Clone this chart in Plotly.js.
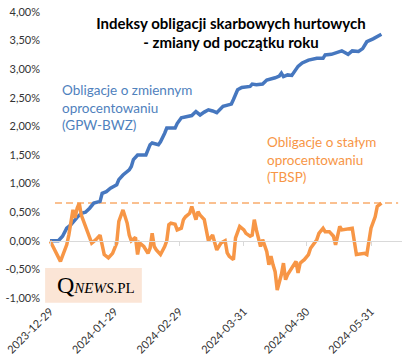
<!DOCTYPE html>
<html><head><meta charset="utf-8">
<script src="https://cdn.plot.ly/plotly-3.0.1.min.js"></script>
<style>html,body{margin:0;padding:0;background:#fff}#chart{width:420px;height:359px}</style>
</head><body><div id="chart"></div>
<script>
const blueDates = ['2023-12-29','2024-01-02','2024-01-04','2024-01-06','2024-01-08','2024-01-10','2024-01-11','2024-01-13','2024-01-15','2024-01-17','2024-01-19','2024-01-22','2024-01-23','2024-01-25','2024-01-27','2024-01-30','2024-01-31','2024-02-02','2024-02-03','2024-02-05','2024-02-06','2024-02-07','2024-02-09','2024-02-13','2024-02-15','2024-02-16','2024-02-19','2024-02-20','2024-02-22','2024-02-23','2024-02-27','2024-02-28','2024-03-01','2024-03-04','2024-03-06','2024-03-08','2024-03-10','2024-03-12','2024-03-14','2024-03-16','2024-03-18','2024-03-21','2024-03-25','2024-03-26','2024-03-28','2024-03-30','2024-04-03','2024-04-04','2024-04-06','2024-04-09','2024-04-11','2024-04-15','2024-04-17','2024-04-18','2024-04-19','2024-04-21','2024-04-23','2024-04-26','2024-04-28','2024-05-01','2024-05-05','2024-05-08','2024-05-09','2024-05-12','2024-05-14','2024-05-17','2024-05-18','2024-05-20','2024-05-22','2024-05-25','2024-05-27','2024-05-29','2024-06-01','2024-06-03','2024-06-05'];
const blueVals = [0.00,0.00,0.08,0.22,0.28,0.37,0.41,0.48,0.50,0.57,0.66,0.69,0.83,0.86,0.92,0.98,1.07,1.15,1.18,1.24,1.30,1.42,1.50,1.50,1.68,1.71,1.68,1.73,1.88,1.97,1.97,2.05,2.15,2.17,2.19,2.26,2.20,2.25,2.29,2.27,2.24,2.35,2.39,2.47,2.64,2.68,2.70,2.74,2.73,2.74,2.81,2.85,2.88,2.93,2.87,2.90,2.89,3.05,3.11,3.16,3.19,3.19,3.25,3.26,3.28,3.32,3.30,3.26,3.32,3.31,3.36,3.48,3.53,3.57,3.61];
const orangeDates = ['2023-12-29','2024-01-03','2024-01-06','2024-01-07','2024-01-09','2024-01-10','2024-01-11','2024-01-12','2024-01-13','2024-01-15','2024-01-17','2024-01-18','2024-01-20','2024-01-22','2024-01-23','2024-01-24','2024-01-26','2024-01-28','2024-01-30','2024-01-31','2024-02-02','2024-02-04','2024-02-05','2024-02-06','2024-02-08','2024-02-09','2024-02-10','2024-02-12','2024-02-14','2024-02-15','2024-02-16','2024-02-17','2024-02-18','2024-02-20','2024-02-22','2024-02-23','2024-02-24','2024-02-25','2024-02-27','2024-02-28','2024-03-01','2024-03-02','2024-03-03','2024-03-05','2024-03-06','2024-03-08','2024-03-09','2024-03-10','2024-03-12','2024-03-13','2024-03-14','2024-03-16','2024-03-17','2024-03-18','2024-03-20','2024-03-22','2024-03-23','2024-03-24','2024-03-26','2024-03-27','2024-03-29','2024-03-31','2024-04-01','2024-04-03','2024-04-04','2024-04-05','2024-04-06','2024-04-07','2024-04-08','2024-04-09','2024-04-11','2024-04-12','2024-04-13','2024-04-14','2024-04-15','2024-04-16','2024-04-18','2024-04-19','2024-04-20','2024-04-21','2024-04-23','2024-04-25','2024-04-26','2024-04-27','2024-04-28','2024-04-29','2024-05-01','2024-05-02','2024-05-05','2024-05-06','2024-05-08','2024-05-09','2024-05-11','2024-05-13','2024-05-14','2024-05-16','2024-05-17','2024-05-20','2024-05-22','2024-05-24','2024-05-26','2024-05-28','2024-05-29','2024-05-30','2024-05-31','2024-06-02','2024-06-03','2024-06-05'];
const orangeVals = [0.00,-0.36,-0.07,0.10,0.54,0.40,0.57,0.66,0.45,0.25,0.05,-0.04,0.02,0.10,-0.07,-0.24,-0.30,-0.22,-0.04,0.34,0.54,0.31,0.10,0.00,0.06,-0.24,-0.04,-0.10,-0.22,-0.13,0.13,-0.10,-0.16,-0.24,-0.10,0.00,0.28,0.31,0.29,0.19,0.22,0.37,0.42,0.48,0.60,0.37,0.51,0.45,0.37,0.19,0.00,0.10,-0.04,-0.16,-0.04,0.00,-0.21,-0.27,-0.33,0.05,0.25,0.19,0.13,0.08,0.10,0.37,0.19,0.05,-0.10,0.02,-0.19,-0.42,-0.27,-0.42,-0.54,-0.86,-0.59,-0.39,-0.68,-0.59,-0.48,-0.36,-0.56,-0.39,-0.36,-0.33,-0.24,-0.13,0.02,0.13,0.22,0.16,0.16,0.08,-0.07,0.25,0.19,0.20,0.22,-0.24,-0.23,-0.22,-0.24,0.00,0.22,0.42,0.60,0.66];
const tickDates = ['2023-12-29','2024-01-29','2024-02-29','2024-03-31','2024-04-30','2024-05-31'];
const yTicks = [-1,-0.5,0,0.5,1,1.5,2,2.5,3,3.5,4];
const titleText = 'Indeksy obligacji skarbowych hurtowych<br>- zmiany od początku roku';
const blueLabel = 'Obligacje o zmiennym<br>oprocentowaniu<br>(GPW-BWZ)';
const orangeLabel = 'Obligacje o stałym<br>oprocentowaniu<br>(TBSP)';

const FONT = 'Lato, "Open Sans", sans-serif';
const BLUE = '#4677BF', ORANGE = '#F79646';
const lastOrange = orangeVals[orangeVals.length - 1];
const yTickText = yTicks.map(v => v.toFixed(2).replace('.', ',') + '%');

const traces = [
  {x: blueDates, y: blueVals, type: 'scatter', mode: 'lines', line: {color: BLUE, width: 3.5}, hoverinfo: 'skip'},
  {x: orangeDates, y: orangeVals, type: 'scatter', mode: 'lines', line: {color: ORANGE, width: 3.5}, hoverinfo: 'skip'},
  {x: tickDates, y: tickDates.map(() => 0), xaxis: 'x2', type: 'scatter', mode: 'markers', marker: {opacity: 0}, hoverinfo: 'skip'}
];

const layout = {
  width: 420, height: 359,
  margin: {l: 49, r: 18, t: 12, b: 61},
  paper_bgcolor: '#fff', plot_bgcolor: 'rgba(0,0,0,0)',
  showlegend: false,
  font: {family: FONT, color: '#333', size: 11},
  title: {text: '<b>' + titleText + '</b>', font: {family: FONT, size: 15, color: '#000'},
          x: 0.55, xanchor: 'center', xref: 'container', y: 0.92, yanchor: 'middle', yref: 'container'},
  xaxis: {type: 'date', range: ['2023-12-28 12:00', '2024-06-14 21:00'],
          tickvals: tickDates, ticktext: tickDates, tickangle: -45,
          showgrid: false, zeroline: false, showline: false, ticks: '',
          ticklabelstandoff: 4,
          tickfont: {family: FONT, size: 11, color: '#333'}},
  xaxis2: {type: 'date', overlaying: 'x', matches: 'x', anchor: 'free', position: 0.2,
           tickvals: tickDates, showticklabels: false, ticks: 'outside', ticklen: 4,
           tickcolor: '#D9D9D9', showline: true, linecolor: '#D9D9D9', linewidth: 1,
           showgrid: false, zeroline: false},
  yaxis: {range: [-1, 4], tickvals: yTicks, ticktext: yTickText,
          showgrid: false, zeroline: false, showline: false, ticks: '',
          ticklabelstandoff: 8,
          tickfont: {family: FONT, size: 11, color: '#333'}},
  shapes: [
    {type: 'line', xref: 'paper', yref: 'y', x0: 0.017, x1: 0.989, y0: lastOrange, y1: lastOrange,
     line: {color: '#FAC090', width: 2, dash: '7px,4px'}, layer: 'below'},
    {type: 'rect', xref: 'paper', yref: 'paper', x0: -0.011, x1: 0.263, y0: -0.017, y1: 0.105,
     fillcolor: '#FBE5D6', line: {width: 0}, layer: 'below'}
  ],
  annotations: [
    {text: blueLabel, xref: 'paper', yref: 'paper', x: (60-49)/353, y: (298-80)/286, xanchor: 'left', yanchor: 'top',
     align: 'left', showarrow: false, font: {family: FONT, size: 13.5, color: '#4F81BD'}},
    {text: orangeLabel, xref: 'paper', yref: 'paper', x: (265-49)/353, y: (298-132)/286, xanchor: 'left', yanchor: 'top',
     align: 'left', showarrow: false, font: {family: FONT, size: 13.5, color: ORANGE}},
    {text: '<span style="font-size:24px">Q</span><i>NEWS</i>.PL', xref: 'paper', yref: 'paper',
     x: (55-49)/353, y: (298-285)/286, xanchor: 'left', yanchor: 'middle', showarrow: false,
     font: {family: '"Liberation Serif", "DejaVu Serif", serif', size: 15, color: '#000'}}
  ]
};

Plotly.newPlot('chart', traces, layout, {staticPlot: true, displayModeBar: false});
</script>
</body></html>
